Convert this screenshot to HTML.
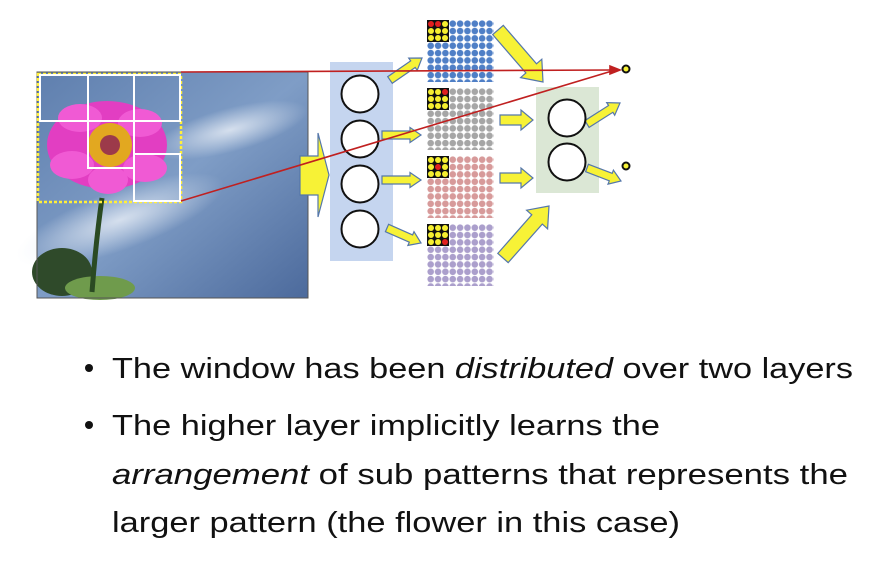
<!DOCTYPE html>
<html><head><meta charset="utf-8"><style>
html,body{margin:0;padding:0;background:#fff;width:876px;height:572px;overflow:hidden}
svg{display:block}
</style></head><body>
<svg id="s" width="876" height="572" xmlns="http://www.w3.org/2000/svg">
<defs>
<linearGradient id="sky" x1="0" y1="0" x2="1" y2="1">
<stop offset="0" stop-color="#5f7fae"/><stop offset="0.5" stop-color="#7f9dc6"/><stop offset="1" stop-color="#4c6a9c"/>
</linearGradient>
<radialGradient id="cloud" cx="0.5" cy="0.5" r="0.5"><stop offset="0" stop-color="#dfe7f2" stop-opacity="0.9"/><stop offset="1" stop-color="#dfe7f2" stop-opacity="0"/></radialGradient>
<pattern id="pb" width="7.35" height="7.35" patternUnits="userSpaceOnUse" x="427" y="20"><circle cx="3.7" cy="3.7" r="3.3" fill="#4f7fc6"/></pattern>
<pattern id="pg" width="7.35" height="7.35" patternUnits="userSpaceOnUse" x="427" y="88"><circle cx="3.7" cy="3.7" r="3.3" fill="#a6a6a6"/></pattern>
<pattern id="pr" width="7.35" height="7.35" patternUnits="userSpaceOnUse" x="427" y="156"><circle cx="3.7" cy="3.7" r="3.3" fill="#d79a9a"/></pattern>
<pattern id="pp" width="7.35" height="7.35" patternUnits="userSpaceOnUse" x="427" y="224"><circle cx="3.7" cy="3.7" r="3.3" fill="#ab9fcc"/></pattern>
</defs>
<!-- photo -->
<rect x="37" y="72" width="271" height="226" fill="url(#sky)"/>
<ellipse cx="230" cy="130" rx="80" ry="22" fill="url(#cloud)" transform="rotate(-15 230 130)"/>
<ellipse cx="120" cy="220" rx="110" ry="30" fill="url(#cloud)" transform="rotate(-20 120 220)"/>
<ellipse cx="62" cy="272" rx="30" ry="24" fill="#2f4a2a"/>
<ellipse cx="100" cy="288" rx="35" ry="12" fill="#6f9b4c"/>
<path d="M102 198 Q96 240 92 292" stroke="#2a4a22" stroke-width="5" fill="none"/>
<ellipse cx="107" cy="145" rx="60" ry="44" fill="#e23ec2"/>
<g fill="#f05ad4">
<ellipse cx="80" cy="118" rx="22" ry="14"/><ellipse cx="140" cy="123" rx="22" ry="14"/><ellipse cx="72" cy="165" rx="22" ry="14"/><ellipse cx="145" cy="168" rx="22" ry="14"/><ellipse cx="108" cy="180" rx="20" ry="14"/>
</g>
<circle cx="110" cy="145" r="22" fill="#e2a820"/>
<circle cx="110" cy="145" r="10" fill="#9c3a4a"/>
<rect x="37" y="72" width="271" height="226" fill="none" stroke="#555" stroke-width="1"/>
<rect x="38" y="74" width="143" height="128" fill="none" stroke="#ffef3a" stroke-width="2.5" stroke-dasharray="3 2"/>
<g fill="none" stroke="#fff" stroke-width="2">
<rect x="40" y="75" width="48" height="46"/><rect x="88" y="75" width="46" height="46"/><rect x="134" y="75" width="46" height="46"/>
<rect x="88" y="121" width="46" height="47"/><rect x="134" y="154" width="46" height="47"/>
</g>
<!-- boxes -->
<rect x="330" y="62" width="63" height="199" fill="#c5d5ef"/>
<rect x="536" y="87" width="63" height="106" fill="#dbe7d5"/>
<rect x="427" y="20" width="67" height="62" fill="url(#pb)"/>
<rect x="427" y="88" width="67" height="62" fill="url(#pg)"/>
<rect x="427" y="156" width="67" height="62" fill="url(#pr)"/>
<rect x="427" y="224" width="67" height="62" fill="url(#pp)"/>
<g id="arrows" fill="#f7f236" stroke="#5577aa" stroke-width="1.2"></g>
<g fill="#fff" stroke="#111" stroke-width="2">
<circle cx="360" cy="94" r="18.5"/><circle cx="360" cy="139" r="18.5"/><circle cx="360" cy="184" r="18.5"/><circle cx="360" cy="229" r="18.5"/>
<circle cx="567" cy="118" r="18.5"/><circle cx="567" cy="162" r="18.5"/>
</g>
<g id="patches"></g>
<g stroke="#c02020" stroke-width="1.6" fill="#c02020">
<line x1="181" y1="72" x2="612" y2="70"/>
<line x1="181" y1="201" x2="612" y2="71"/>
<polygon points="620,70 610,66 610,74"/>
</g>
<g fill="#f7f236" stroke="#111" stroke-width="2">
<circle cx="626" cy="69" r="3.5"/><circle cx="626" cy="166" r="3.5"/>
</g>
<!-- text -->
<g font-family="Liberation Sans, sans-serif" font-size="29" fill="#111">
<circle cx="89" cy="368" r="4"/>
<circle cx="89" cy="425" r="4"/>
<text x="112" y="378" textLength="741" lengthAdjust="spacingAndGlyphs">The window has been <tspan font-style="italic">distributed</tspan> over two layers</text>
<text x="112" y="435" textLength="548" lengthAdjust="spacingAndGlyphs">The higher layer implicitly learns the</text>
<text x="112" y="484" textLength="736" lengthAdjust="spacingAndGlyphs"><tspan font-style="italic">arrangement</tspan> of sub patterns that represents the</text>
<text x="112" y="532" textLength="568" lengthAdjust="spacingAndGlyphs">larger pattern (the flower in this case)</text>
</g>
</svg>
<script>
var NS="http://www.w3.org/2000/svg";
function arrow(x1,y1,x2,y2,w,hw,hl){
 var dx=x2-x1,dy=y2-y1,L=Math.hypot(dx,dy),ux=dx/L,uy=dy/L,px=-uy,py=ux;
 var bx=x2-ux*hl,by=y2-uy*hl;
 var p=[[x1+px*w/2,y1+py*w/2],[bx+px*w/2,by+py*w/2],[bx+px*hw/2,by+py*hw/2],[x2,y2],[bx-px*hw/2,by-py*hw/2],[bx-px*w/2,by-py*w/2],[x1-px*w/2,y1-py*w/2]];
 var e=document.createElementNS(NS,"polygon");
 e.setAttribute("points",p.map(function(a){return a[0].toFixed(1)+","+a[1].toFixed(1)}).join(" "));
 document.getElementById("arrows").appendChild(e);
}
arrow(390,80,422,58,8,15,11);
arrow(382,135,421,135,8,15,11);
arrow(382,180,421,180,8,15,11);
arrow(387,228,421,243,8,15,11);
arrow(498,30,543,82,14,28,18);
arrow(500,120,533,120,10,20,12);
arrow(500,178,533,178,10,20,12);
arrow(503,258,549,206,14,28,18);
arrow(587,124,620,103,8,15,11);
arrow(587,168,621,181,8,15,11);
var big=document.createElementNS(NS,"polygon");
big.setAttribute("points","300,156 318,156 318,133 329,175 318,217 318,195 300,195");
document.getElementById("arrows").appendChild(big);
var reds=[[[0,0],[1,0]],[[2,0]],[[1,1]],[[2,2]]];
var ys=[20,88,156,224],pg=document.getElementById("patches");
for(var k=0;k<4;k++){
 var r=document.createElementNS(NS,"rect");
 r.setAttribute("x",427);r.setAttribute("y",ys[k]);r.setAttribute("width",22);r.setAttribute("height",22);r.setAttribute("fill","#111");pg.appendChild(r);
 for(var i=0;i<3;i++)for(var j=0;j<3;j++){
  var red=reds[k].some(function(a){return a[0]==i&&a[1]==j});
  var c=document.createElementNS(NS,"circle");
  c.setAttribute("cx",431+i*7);c.setAttribute("cy",ys[k]+4+j*7);c.setAttribute("r",3);
  c.setAttribute("fill",red?"#e02020":"#f5ef30");pg.appendChild(c);
 }
}
</script>
</body></html>
